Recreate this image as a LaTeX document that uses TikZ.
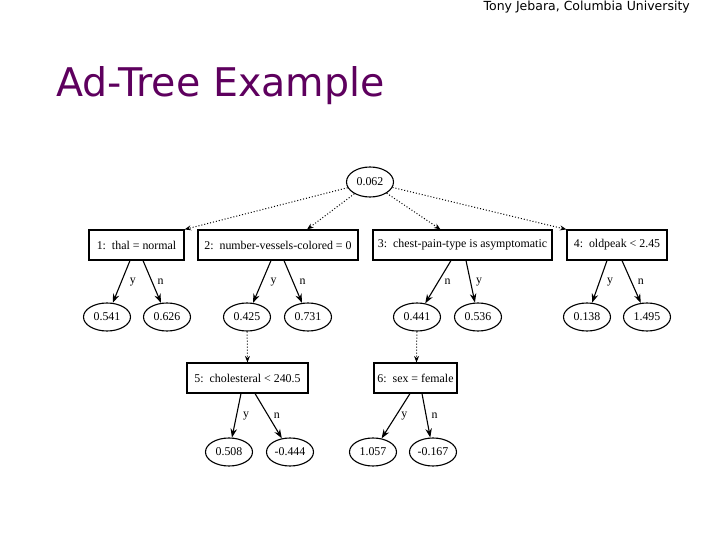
\documentclass[tikz,border=0pt]{standalone}
\usepackage{fontspec}
\setmainfont{Liberation Serif}
\newfontfamily\tahoma{DejaVu Sans}
\usetikzlibrary{shapes.geometric,arrows.meta}
\definecolor{titlepurple}{RGB}{94,0,94}
\begin{document}
\begin{tikzpicture}[x=1pt,y=-1pt,
 leaf/.style={ellipse,draw,line width=1.1pt,minimum width=47pt,minimum height=28pt,inner sep=0pt,font=\fontsize{11.9}{11.9}\selectfont},
 testbox/.style={rectangle,draw,line width=1.1pt,minimum height=30pt,inner sep=0pt,font=\fontsize{11.9}{11.9}\selectfont},
 edge/.style={line width=1.1pt,-{Stealth[length=9pt,width=6.5pt]}},
 dotedge/.style={dotted,line width=1pt,-{Stealth[length=6.5pt,width=5pt]}},
 lab/.style={font=\fontsize{11.9}{11.9}\selectfont,inner sep=0pt}
]
\useasboundingbox (0,0) rectangle (720,540);
% header and title
\node[anchor=east,inner sep=0pt,font=\tahoma\fontsize{12.5}{12.5}\selectfont] (hdr) at (690,7) {Tony Jebara, Columbia University};
\node[anchor=west,inner sep=0pt,text=titlepurple,font=\tahoma\fontsize{39.5}{39.5}\selectfont] (ttl) at (56,86) {Ad-Tree Example};
% root
\node[leaf,minimum height=30pt] (root) at (370,182) {0.062};
% tests row
\node[testbox,minimum width=95pt] (b1) at (136.5,245) {1:\ \ thal = normal};
\node[testbox,minimum width=160pt] (b2) at (278,245) {2:\ \ number-vessels-colored = 0};
\node[testbox,minimum width=179pt] (b3) at (462.5,245) {3:\ \ chest-pain-type is asymptomatic};
\node[testbox,minimum width=100pt] (b4) at (617,245) {4:\ \ oldpeak < 2.45};
% leaves row
\node[leaf] (l1) at (107,317) {0.541};
\node[leaf] (l2) at (167,317) {0.626};
\node[leaf] (l3) at (247,317) {0.425};
\node[leaf] (l4) at (308,317) {0.731};
\node[leaf] (l5) at (417,317) {0.441};
\node[leaf] (l6) at (478,317) {0.536};
\node[leaf] (l7) at (587,317) {0.138};
\node[leaf] (l8) at (647,317) {1.495};
% second level tests
\node[testbox,minimum width=121pt] (b5) at (247.5,378) {5:\ \ cholesteral < 240.5};
\node[testbox,minimum width=83pt] (b6) at (415.5,378) {6:\ \ sex = female};
% bottom leaves
\node[leaf] (l9) at (229,452) {0.508};
\node[leaf] (l10) at (290,452) {-0.444};
\node[leaf] (l11) at (373,452) {1.057};
\node[leaf] (l12) at (433,452) {-0.167};
% dotted edges
\draw[dotedge] (root) -- (b1.north east);
\draw[dotedge] (root) -- ([xshift=29pt]b2.north);
\draw[dotedge] (root) -- ([xshift=-22pt]b3.north);
\draw[dotedge] (root) -- (b4.north west);
\draw[dotedge] (l3) -- (b5.north);
\draw[dotedge] (l5) -- ([xshift=1pt]b6.north);
% solid edges
\draw[edge] ([xshift=-6.5pt]b1.south) -- (l1) node[lab,pos=0.5,right=8pt] {y};
\draw[edge] ([xshift=6.5pt]b1.south) -- (l2) node[lab,pos=0.5,right=5pt] {n};
\draw[edge] ([xshift=-7pt]b2.south) -- (l3) node[lab,pos=0.5,right=8pt] {y};
\draw[edge] ([xshift=6pt]b2.south) -- (l4) node[lab,pos=0.5,right=6pt] {n};
\draw[edge] ([xshift=-11.5pt]b3.south) -- (l5) node[lab,pos=0.5,right=6pt] {n};
\draw[edge] ([xshift=3.5pt]b3.south) -- (l6) node[lab,pos=0.5,right=5pt] {y};
\draw[edge] ([xshift=-10pt]b4.south) -- (l7) node[lab,pos=0.5,right=7pt] {y};
\draw[edge] ([xshift=5pt]b4.south) -- (l8) node[lab,pos=0.5,right=6pt] {n};
\draw[edge] ([xshift=-6.5pt]b5.south) -- (l9) node[lab,pos=0.5,right=6pt] {y};
\draw[edge] ([xshift=7.5pt]b5.south) -- (l10) node[lab,pos=0.5,right=5pt] {n};
\draw[edge] ([xshift=-5.5pt]b6.south) -- (l11) node[lab,pos=0.5,right=5pt] {y};
\draw[edge] ([xshift=6.5pt]b6.south) -- (l12) node[lab,pos=0.5,right=5pt] {n};
\end{tikzpicture}
\end{document}
